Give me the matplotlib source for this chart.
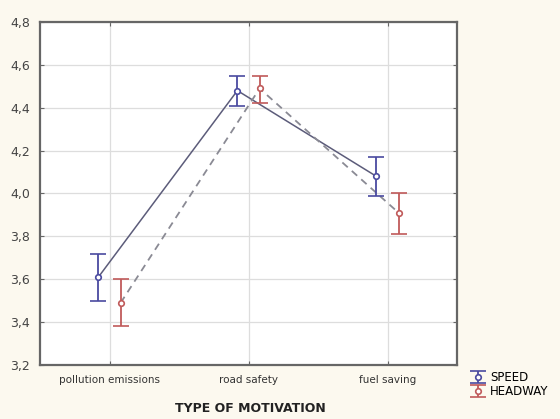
import matplotlib.pyplot as plt
import numpy as np

# chart values
categories = ["pollution emissions", "road safety", "fuel saving"]
speed_mean = [3.61, 4.48, 4.08]
speed_low = [3.50, 4.41, 3.99]
speed_high = [3.72, 4.55, 4.17]
headway_mean = [3.49, 4.49, 3.91]
headway_low = [3.38, 4.42, 3.81]
headway_high = [3.60, 4.55, 4.00]
yticks = [3.2, 3.4, 3.6, 3.8, 4.0, 4.2, 4.4, 4.6, 4.8]


def main():
    fig = plt.figure(figsize=(5.6, 4.19), dpi=100, facecolor="#fcf9ef")
    ax = fig.add_axes([40 / 560, 1 - 365 / 419, 417 / 560, 343 / 419])
    ax.set_facecolor("white")

    x = np.arange(len(categories))
    off = 0.08
    sm = np.array(speed_mean)
    hm = np.array(headway_mean)
    s_err = [sm - np.array(speed_low), np.array(speed_high) - sm]
    h_err = [hm - np.array(headway_low), np.array(headway_high) - hm]

    ax.plot(x - off, sm, color="#5c5c7a", lw=1.1, zorder=2)
    ax.plot(x + off, hm, color="#8a8a94", lw=1.3, ls=(0, (4, 3)), zorder=2)
    ax.errorbar(x - off, sm, yerr=s_err, fmt="o", mfc="white", mec="#4a4aa0",
                ms=4, mew=1.2, color="#4a4aa0", ecolor="#4a4aa0", elinewidth=1.3,
                capsize=6, capthick=1.3, zorder=3, label="SPEED")
    ax.errorbar(x + off, hm, yerr=h_err, fmt="o", mfc="white", mec="#c05a5a",
                ms=4, mew=1.2, color="#c05a5a", ecolor="#c05a5a", elinewidth=1.3,
                capsize=6, capthick=1.3, zorder=3, label="HEADWAY")

    ax.set_xlim(-0.5, 2.5)
    ax.set_ylim(3.2, 4.8)
    ax.set_xticks(x)
    ax.set_xticklabels(categories, fontsize=7.5, color="#333333")
    ax.set_yticks(yticks)
    ax.set_yticklabels([f"{v:.1f}".replace(".", ",") for v in yticks],
                       fontsize=9, color="#444444")
    ax.tick_params(direction="in", length=3, color="#666666", right=True, top=True,
                   pad=7)
    ax.grid(True, color="#dddddd", lw=0.9)
    ax.set_axisbelow(True)
    for s in ax.spines.values():
        s.set_color("#666666")
        s.set_linewidth(1.6)

    fig.text(250 / 560, 1 - 408 / 419, "TYPE OF MOTIVATION", ha="center",
             va="center", fontsize=9, fontweight="bold", color="#222222")

    ax.legend(loc="upper left", bbox_to_anchor=(462 / 560, 1 - 363 / 419),
              bbox_transform=fig.transFigure, frameon=False, fontsize=8.5,
              handlelength=1.3, handletextpad=0.4, labelspacing=0.1,
              borderpad=0.2)

    plt.savefig("out.png", dpi=100, facecolor=fig.get_facecolor())


if __name__ == "__main__":
    main()
